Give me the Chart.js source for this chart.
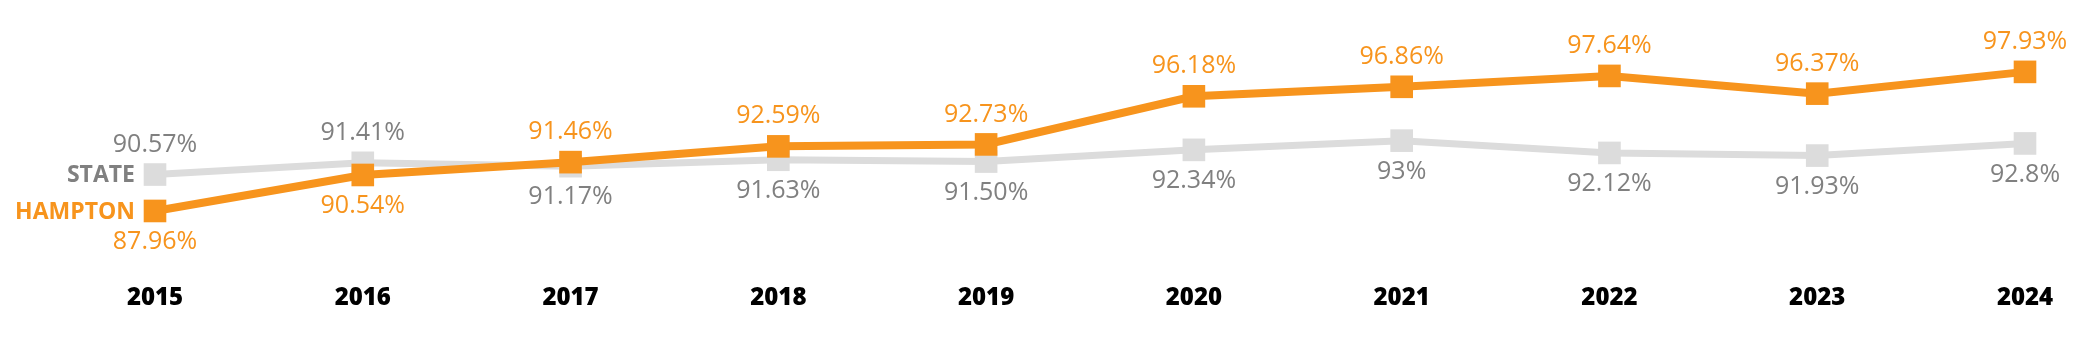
<!DOCTYPE html>
<html>
<head>
<meta charset="utf-8">
<script src="https://cdn.jsdelivr.net/npm/chart.js@4"></script>
<style>
  html, body { margin: 0; padding: 0; background: #fff; }
  #wrap { width: 2088px; height: 360px; }
</style>
</head>
<body>
<div id="wrap"><canvas id="gradChart" width="2088" height="360"></canvas></div>
<script>
// 데이터
const years = ['2015', '2016', '2017', '2018', '2019', '2020', '2021', '2022', '2023', '2024'];
const hamptonValues = [87.96, 90.54, 91.46, 92.59, 92.73, 96.18, 96.86, 97.64, 96.37, 97.93];
const stateValues = [90.57, 91.41, 91.17, 91.63, 91.50, 92.34, 93, 92.12, 91.93, 92.8];
const hamptonLabels = ['87.96%', '90.54%', '91.46%', '92.59%', '92.73%', '96.18%', '96.86%', '97.64%', '96.37%', '97.93%'];
const stateLabels = ['90.57%', '91.41%', '91.17%', '91.63%', '91.50%', '92.34%', '93%', '92.12%', '91.93%', '92.8%'];

const ORANGE = '#F7941D';
const GRAY_LINE = '#DCDCDC';
const GRAY_TEXT = '#808080';

// 값 라벨 + 시리즈 이름 그리기
const labelPlugin = {
    id: 'valueLabels',
    afterDatasetsDraw(chart) {
        const ctx = chart.ctx;
        const sets = chart.data.datasets;
        ctx.save();
        sets.forEach((ds, i) => {
            const meta = chart.getDatasetMeta(i);
            const other = sets[1 - i].data;
            ctx.fillStyle = ds.textColor;
            ctx.font = '25px "Open Sans"';
            ctx.textAlign = 'center';
            ctx.textBaseline = 'middle';
            meta.data.forEach((pt, j) => {
                const above = ds.data[j] >= other[j];
                const y = above ? pt.y - 30 : pt.y + 31;
                ctx.fillText(ds.valueLabels[j], pt.x, y);
            });
            // 시리즈 이름 (첫 점 왼쪽)
            const first = meta.data[0];
            ctx.font = 'bold 23px "Open Sans"';
            ctx.textAlign = 'right';
            ctx.fillText(ds.label, first.x - 20, first.y + 1);
        });
        ctx.restore();
    }
};

new Chart(document.getElementById('gradChart'), {
    type: 'line',
    data: {
        labels: years,
        datasets: [{
            label: 'HAMPTON',
            data: hamptonValues,
            valueLabels: hamptonLabels,
            textColor: ORANGE,
            borderColor: ORANGE,
            backgroundColor: ORANGE,
            borderWidth: 8,
            pointStyle: 'rect',
            pointRadius: 16,
            pointBorderWidth: 0,
            pointBackgroundColor: ORANGE,
            tension: 0,
            clip: false
        }, {
            label: 'STATE',
            data: stateValues,
            valueLabels: stateLabels,
            textColor: GRAY_TEXT,
            borderColor: GRAY_LINE,
            backgroundColor: GRAY_LINE,
            borderWidth: 7,
            pointStyle: 'rect',
            pointRadius: 16,
            pointBorderWidth: 0,
            pointBackgroundColor: GRAY_LINE,
            tension: 0,
            clip: false
        }]
    },
    options: {
        responsive: false,
        animation: false,
        layout: {
            padding: { left: 155, right: 63, top: 43, bottom: 29 }
        },
        plugins: {
            legend: { display: false },
            tooltip: { enabled: false }
        },
        scales: {
            x: {
                offset: false,
                grid: { display: false, drawTicks: false },
                border: { display: false },
                ticks: {
                    color: '#000',
                    padding: 18,
                    font: { family: 'Open Sans', size: 24, weight: 800 }
                }
            },
            y: {
                display: false,
                min: 84,
                max: 100
            }
        }
    },
    plugins: [labelPlugin]
});
</script>
</body>
</html>
